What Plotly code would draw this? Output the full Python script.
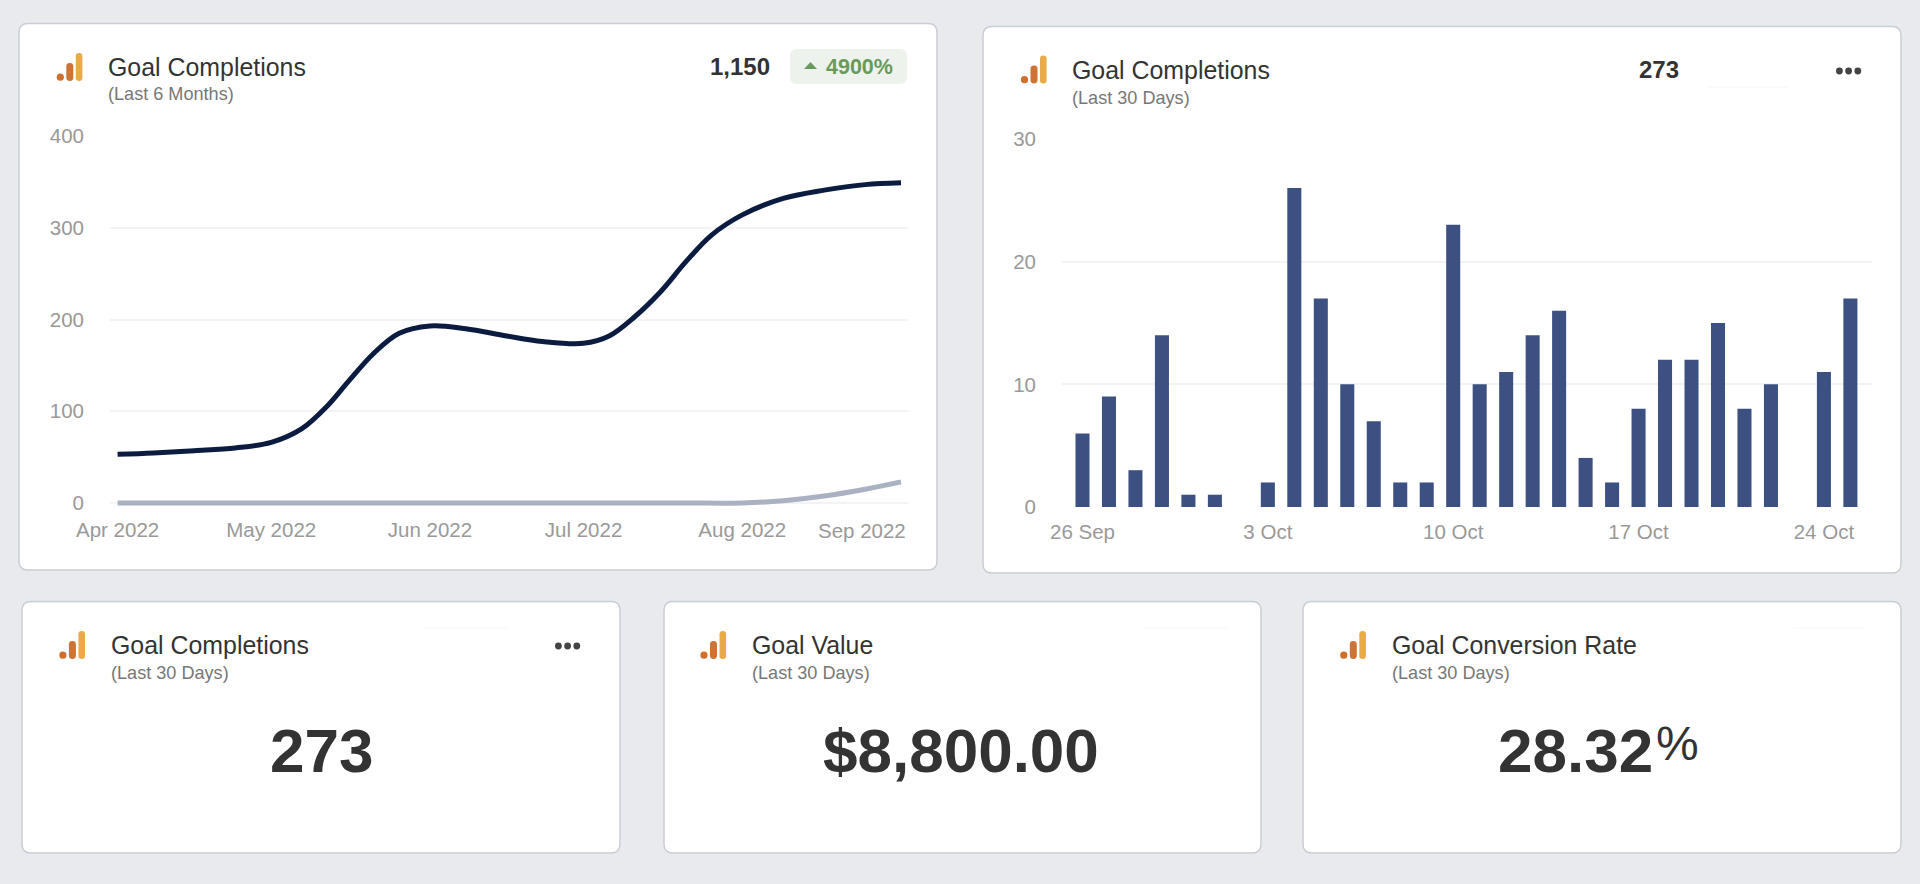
import plotly.graph_objects as go

W = 1920
H = 884

# line chart values (last 6 months)
current_dates = ['2022-04-01', '2022-04-08', '2022-04-16', '2022-04-24', '2022-05-01', '2022-05-07', '2022-05-12',
                 '2022-05-16', '2022-05-21', '2022-05-26', '2022-06-01', '2022-06-08', '2022-06-16', '2022-06-23',
                 '2022-07-01', '2022-07-06', '2022-07-11', '2022-07-16', '2022-07-21', '2022-07-26', '2022-08-01',
                 '2022-08-09', '2022-08-17', '2022-08-25', '2022-09-01']
current_values = [53, 54.5, 57, 60, 66, 81, 106, 132, 163, 185, 193, 190, 182, 176, 174, 182, 203, 230, 263, 292, 314,
                  332, 341, 347, 349]
previous_dates = ['2022-04-01', '2022-05-01', '2022-06-01', '2022-07-01', '2022-07-20', '2022-08-01', '2022-08-09',
                  '2022-08-17', '2022-08-25', '2022-09-01']
previous_values = [0, 0, 0, 0, 0, 0, 2.5, 7.6, 15, 23]
month_ticks = ['2022-04-01', '2022-05-01', '2022-06-01', '2022-07-01', '2022-08-01']
month_labels = ['Apr 2022', 'May 2022', 'Jun 2022', 'Jul 2022', 'Aug 2022', 'Sep 2022']

# bar chart values (last 30 days)
days = ['26 Sep', '27 Sep', '28 Sep', '29 Sep', '30 Sep', '1 Oct', '2 Oct', '3 Oct', '4 Oct', '5 Oct',
        '6 Oct', '7 Oct', '8 Oct', '9 Oct', '10 Oct', '11 Oct', '12 Oct', '13 Oct', '14 Oct', '15 Oct',
        '16 Oct', '17 Oct', '18 Oct', '19 Oct', '20 Oct', '21 Oct', '22 Oct', '23 Oct', '24 Oct', '25 Oct']
day_values = [6, 9, 3, 14, 1, 1, 0, 2, 26, 17, 10, 7, 2, 2, 23, 10, 11, 14, 16, 4, 2, 8, 12, 12, 15, 8, 10, 0, 11, 17]
day_ticks = ['26 Sep', '3 Oct', '10 Oct', '17 Oct', '24 Oct']

FONT = 'Liberation Sans'
INK = '#333333'
TICK = '#999999'
GRID = '#f2f3f5'


def px(x):
    return x / W


def py(y):
    return 1 - y / H


def rounded(x0, y0, x1, y1, r):
    # rounded rectangle as svg path in paper coordinates
    pts = [
        ('M', x0 + r, y0), ('L', x1 - r, y0), ('Q', x1, y0, x1, y0 + r),
        ('L', x1, y1 - r), ('Q', x1, y1, x1 - r, y1), ('L', x0 + r, y1),
        ('Q', x0, y1, x0, y1 - r), ('L', x0, y0 + r), ('Q', x0, y0, x0 + r, y0),
    ]
    path = ''
    for p in pts:
        path += p[0]
        coords = p[1:]
        path += ' '.join(f'{px(coords[i]):.6f},{py(coords[i + 1]):.6f}' for i in range(0, len(coords), 2)) + ' '
    return path + 'Z'


def box(x0, y0, x1, y1, r, fill, line=None):
    return dict(type='path', xref='paper', yref='paper', layer='below', path=rounded(x0, y0, x1, y1, r),
                fillcolor=fill, line=dict(color=line or fill, width=1.5 if line else 0))


def dot(cx, cy, r, fill):
    return dict(type='circle', xref='paper', yref='paper', layer='below',
                x0=px(cx - r), x1=px(cx + r), y0=py(cy + r), y1=py(cy - r),
                fillcolor=fill, line=dict(width=0))


def hline(x0, x1, y, color):
    return dict(type='line', xref='paper', yref='paper', layer='below',
                x0=px(x0), x1=px(x1), y0=py(y), y1=py(y), line=dict(color=color, width=1))


def icon(x, bottom):
    return [
        dot(x + 3.5, bottom - 3.8, 3.6, '#cf6f2e'),
        box(x + 9.5, bottom - 18, x + 16.5, bottom, 3.4, '#cd7434'),
        box(x + 19, bottom - 28, x + 25.6, bottom, 3.2, '#e9ab4a'),
    ]


def menu_dots(x0, y):
    return [dot(x0 + 3.4 + i * 9.2, y, 3.4, '#444444') for i in range(3)]


def label(x, y, text, size, color=INK, bold=False, anchor='left'):
    if bold:
        text = f'<b>{text}</b>'
    return dict(xref='paper', yref='paper', x=px(x), y=py(y), text=text, showarrow=False,
                xanchor=anchor, yanchor='middle', align=anchor,
                font=dict(family=FONT, size=size, color=color))


def header(x, y, title, period):
    return [label(x, y, title, 24.9), label(x, y + 27.5, period, 18.1, '#777777')]


fig = go.Figure()

fig.add_trace(go.Scatter(x=current_dates, y=current_values, mode='lines', xaxis='x', yaxis='y', cliponaxis=False,
                         line=dict(color='#0c1c40', width=5, shape='spline', smoothing=1)))
fig.add_trace(go.Scatter(x=previous_dates, y=previous_values, mode='lines', xaxis='x', yaxis='y', cliponaxis=False,
                         line=dict(color='#aab1c2', width=5, shape='spline', smoothing=1)))
fig.add_trace(go.Bar(x=days, y=day_values, xaxis='x2', yaxis='y2', marker=dict(color='#3c5082', line=dict(width=0))))

shapes = [
    box(19, 23.5, 937, 570, 9, '#ffffff', '#c9ced6'),
    box(983, 26.5, 1901, 573, 9, '#ffffff', '#c9ced6'),
    box(22, 601.5, 620, 853, 9, '#ffffff', '#c9ced6'),
    box(664, 601.5, 1261, 853, 9, '#ffffff', '#c9ced6'),
    box(1303, 601.5, 1901, 853, 9, '#ffffff', '#c9ced6'),
    box(790, 49, 907, 84, 7, '#edf3ec'),
    dict(type='path', xref='paper', yref='paper', layer='below', fillcolor='#6a9a5b', line=dict(width=0),
         path=f'M{px(804)},{py(69)} L{px(810.5)},{py(62)} L{px(817)},{py(69)} Z'),
    hline(1707, 1787, 87, '#f5f5f5'),
    hline(424, 508, 628, '#fdf5f5'),
    hline(1144, 1227, 628, '#fdf5f5'),
    hline(1794, 1866, 628, '#fdf5f5'),
]
for ix, iy in [(56.8, 81), (1021, 83.5), (59.4, 659), (700.5, 659), (1340.3, 659)]:
    shapes += icon(ix, iy)
shapes += menu_dots(1836, 71) + menu_dots(555, 646)

annotations = []
annotations += header(105.6, 67, 'Goal Completions', '(Last 6 Months)')
annotations += header(1069.6, 70, 'Goal Completions', '(Last 30 Days)')
annotations += header(108.6, 645, 'Goal Completions', '(Last 30 Days)')
annotations += header(749.6, 645, 'Goal Value', '(Last 30 Days)')
annotations += header(1389.6, 645, 'Goal Conversion Rate', '(Last 30 Days)')
annotations += [
    label(771.5, 67, '1,150', 24, bold=True, anchor='right'),
    label(824, 67.5, '<b>4900%</b>', 21.5, '#6a9a5b'),
    label(1659, 69.5, '273', 24, bold=True, anchor='center'),
    label(321, 750, '273', 62, bold=True, anchor='center'),
    label(961, 750, '$8,800.00', 62, bold=True, anchor='center'),
    label(1655, 750, '28.32', 62, bold=True, anchor='right'),
    label(1654, 743, '%', 48, anchor='left'),
    label(907.5, 530.5, month_labels[-1], 20.5, TICK, anchor='right'),
]

tick_font = dict(family=FONT, size=20.5, color=TICK)

fig.update_layout(
    width=W,
    height=H,
    margin=dict(l=0, r=0, t=0, b=0, pad=0, autoexpand=False),
    paper_bgcolor='#e8eaee',
    plot_bgcolor='rgba(0,0,0,0)',
    showlegend=False,
    bargap=0.47,
    shapes=shapes,
    annotations=annotations,
    xaxis=dict(
        type='date',
        automargin=False,
        domain=[px(110), px(907.5)],
        range=['2022-03-30 12:30', '2022-09-02 06:30'],
        anchor='y',
        tickvals=month_ticks,
        ticktext=month_labels[:-1],
        showgrid=False,
        zeroline=False,
        showline=False,
        ticks='',
        ticklabelstandoff=3,
        tickfont=tick_font,
    ),
    yaxis=dict(
        automargin=False,
        domain=[py(512.175), py(136)],
        range=[-10, 400],
        tick0=0,
        dtick=100,
        anchor='x',
        gridcolor=GRID,
        gridwidth=1.5,
        zeroline=False,
        showline=False,
        ticklabelstandoff=25,
        tickfont=tick_font,
    ),
    xaxis2=dict(
        type='category',
        automargin=False,
        domain=[px(1062), px(1872)],
        range=[-0.774, 29.816],
        anchor='y2',
        tickmode='array',
        tickvals=day_ticks,
        ticktext=day_ticks,
        showgrid=False,
        zeroline=False,
        showline=False,
        ticks='',
        ticklabelstandoff=10,
        tickfont=tick_font,
    ),
    yaxis2=dict(
        automargin=False,
        domain=[py(507), py(139)],
        range=[0, 30],
        dtick=10,
        anchor='x2',
        gridcolor=GRID,
        gridwidth=1.5,
        zeroline=False,
        showline=False,
        ticklabelstandoff=25,
        tickfont=tick_font,
    ),
)

fig.write_html("out.html", config={'displayModeBar': False},
               post_script="document.body.style.margin='0';document.body.style.background='#e8eaee';")
